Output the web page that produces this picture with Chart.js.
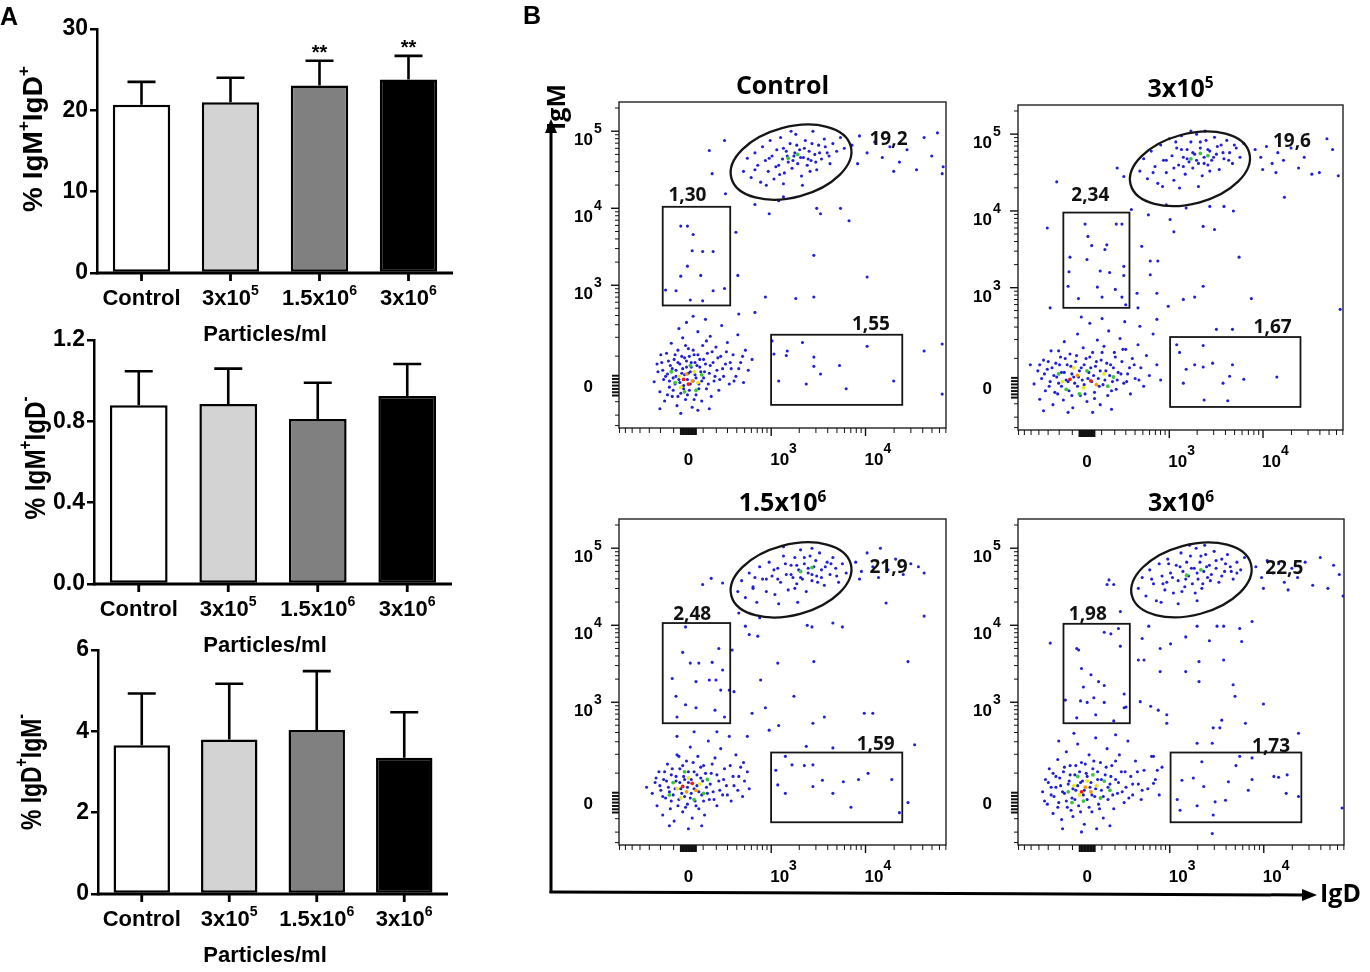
<!DOCTYPE html>
<html>
<head>
<meta charset="utf-8">
<script src="https://cdn.jsdelivr.net/npm/chart.js@4.4.0/dist/chart.umd.min.js"></script>
<style>
  html, body { margin: 0; padding: 0; background: #fff; }
  #page { position: relative; width: 1370px; height: 972px; overflow: hidden; background: #fff; }
  #page canvas { position: absolute; }
  #deco { position: absolute; left: 0; top: 0; pointer-events: none; }
</style>
</head>
<body>
<div id="page">
  <canvas id="bar1" style="left:0px;top:0px" width="470" height="355"></canvas>
  <canvas id="bar2" style="left:0px;top:315px" width="470" height="350"></canvas>
  <canvas id="bar3" style="left:0px;top:625px" width="470" height="347"></canvas>
  <canvas id="flow0" style="left:540px;top:55px" width="420" height="425"></canvas>
  <canvas id="flow1" style="left:950px;top:55px" width="420" height="425"></canvas>
  <canvas id="flow2" style="left:540px;top:470px" width="420" height="425"></canvas>
  <canvas id="flow3" style="left:950px;top:470px" width="420" height="425"></canvas>
  <svg id="deco" width="1370" height="972">
    <g font-family="Liberation Sans, Arial, sans-serif" font-weight="bold" font-size="25" fill="#000">
      <text x="0" y="25">A</text>
      <text x="523" y="24">B</text>
    </g>
    <g stroke="#000" stroke-width="3" fill="none">
      <line x1="551" y1="893" x2="551" y2="131"/>
      <line x1="549.5" y1="892" x2="1303" y2="895"/>
    </g>
    <polygon points="545,133 557,133 551,119" fill="#000"/>
    <polygon points="1302,889 1302,901 1317,895" fill="#000"/>
    <g font-family="Open Sans, sans-serif" font-weight="bold" font-size="25" fill="#000">
      <text transform="translate(565,107) rotate(-90)" text-anchor="middle">IgM</text>
      <text x="1320" y="902">IgD</text>
    </g>
  </svg>
</div>
<script>
// ---------- panel A: bar charts ----------
const barGroups = ["Control", "3x10{5}", "1.5x10{6}", "3x10{6}"];
const barColors = ["#ffffff", "#d3d3d3", "#808080", "#000000"];

const igmIgdMean = [20.7, 21.0, 23.05, 23.8];
const igmIgdSd = [2.8, 3.0, 3.05, 2.9];
const igmIgdSig = ["", "", "**", "**"];

const igmOnlyMean = [0.879, 0.885, 0.811, 0.925];
const igmOnlySd = [0.167, 0.174, 0.179, 0.157];

const igdOnlyMean = [3.66, 3.80, 4.03, 3.35];
const igdOnlySd = [1.27, 1.37, 1.45, 1.12];

// ---------- panel B: flow plots ----------
const flowTitles = ["Control", "3x10{5}", "1.5x10{6}", "3x10{6}"];
const flowXLabels = [[0, "0"], [1e3, "10{3}"], [1e4, "10{4}"]];
const flowYLabels = [[0, "0"], [1e3, "10{3}"], [1e4, "10{4}"], [1e5, "10{5}"]];

// gates, in display (decade) units of each plot
const ellipseCentres = [[1.08, 2.90], [1.09, 2.85], [1.08, 2.89], [1.10, 2.89]];
const igmGate = [[-0.27, 0.44, 1.04, 2.32], [-0.25, 0.45, 1.04, 2.28], [-0.27, 0.44, 1.03, 2.33], [-0.25, 0.45, 1.03, 2.32]];
const igdGate = [[0.87, 2.25, -0.25, 0.66], [0.88, 2.26, -0.25, 0.66], [0.87, 2.25, -0.255, 0.65], [0.88, 2.26, -0.255, 0.65]];
const ellipsePct = ["19,2", "19,6", "21,9", "22,5"];
const igmPct = ["1,30", "2,34", "2,48", "1,98"];
const igdPct = ["1,55", "1,67", "1,59", "1,73"];
const ellipsePctAt = [[2.105, 3.21], [2.17, 3.22], [2.105, 3.065], [2.08, 3.06]];
const igmPctAt = [[-0.01, 2.49], [0.035, 2.52], [0.04, 2.46], [0.007, 2.46]];
const igdPctAt = [[1.92, 0.81], [1.965, 0.81], [1.97, 0.77], [1.94, 0.75]];

// events [IgD, IgM] in display units
const ctrlDots = [
  // IgM-IgD- cluster
  [-0.36,0.05],[-0.32,0.18],[-0.30,-0.08],[-0.28,0.30],[-0.26,0.08],[-0.25,-0.20],[-0.23,0.42],[-0.22,0.15],[-0.20,-0.02],[-0.19,0.26],
  [-0.18,0.55],[-0.17,-0.14],[-0.16,0.10],[-0.15,0.34],[-0.14,0.02],[-0.13,0.20],[-0.12,-0.26],[-0.11,0.46],[-0.10,0.08],[-0.09,0.28],
  [-0.08,-0.10],[-0.07,0.16],[-0.06,0.62],[-0.05,0.00],[-0.04,0.36],[-0.03,-0.18],[-0.02,0.24],[-0.01,0.08],[0.00,0.48],[0.01,-0.06],
  [0.02,0.18],[0.03,0.30],[0.04,-0.28],[0.05,0.06],[0.06,0.40],[0.07,0.14],[0.08,-0.12],[0.09,0.26],[0.10,0.70],[0.11,0.02],
  [0.12,0.34],[0.13,0.18],[0.14,-0.20],[0.15,0.52],[0.16,0.10],[0.18,0.28],[0.19,-0.04],[0.20,0.42],[0.22,0.16],[0.23,0.64],
  [0.24,-0.14],[0.26,0.30],[0.27,0.06],[0.29,0.50],[0.30,0.20],[0.32,-0.06],[0.34,0.38],[0.35,0.78],[0.37,0.12],[0.39,0.28],
  [0.41,0.56],[0.43,0.02],[0.45,0.22],[0.47,0.40],[0.50,0.12],[0.52,0.66],[0.55,0.30],[0.58,0.04],[0.60,0.46],[0.63,0.20],
  [0.67,0.34],[-0.02,0.82],[0.05,0.90],[-0.10,0.74],[0.18,0.86],[-0.30,-0.30],[-0.08,-0.36],[0.10,-0.32],[0.22,-0.30],
  [-0.24,0.12],[-0.21,0.32],[-0.20,0.06],[-0.17,0.22],[-0.16,-0.06],[-0.14,0.40],[-0.13,0.12],[-0.11,0.30],[-0.11,-0.14],[-0.09,0.04],
  [-0.07,0.38],[-0.06,0.22],[-0.05,-0.04],[-0.04,0.14],[-0.03,0.52],[-0.02,0.32],[-0.01,-0.12],[0.00,0.16],[0.01,0.38],[0.02,0.02],
  [0.03,0.24],[0.05,0.46],[0.06,-0.18],[0.07,0.30],[0.08,0.10],[0.10,0.40],[0.11,-0.04],[0.12,0.24],[0.14,0.06],[0.16,0.34],
  [0.17,0.18],[0.19,0.58],[0.21,0.02],[0.23,0.26],[0.25,0.44],[0.28,0.12],[0.31,0.36],[0.33,0.08],[0.36,0.22],[0.40,0.44],
  [0.44,0.30],[0.48,0.06],[0.53,0.22],[0.57,0.38],[-0.27,0.20],[-0.33,0.28],[-0.29,0.40],[-0.22,-0.12],
  // scattered events
  [0.22,3.05],[0.38,3.18],[0.25,2.75],[0.39,2.49],[0.50,1.99],[0.52,1.43],[0.53,0.93],[0.81,1.15],[1.13,1.13],[1.32,1.15],
  [1.32,1.69],[1.88,1.41],[2.67,2.75],[2.67,0.54],[2.67,-0.11],[2.48,0.45],[1.69,2.14],[1.39,2.23],[0.85,2.23],[0.70,0.95],
  [0.70,2.35],[0.95,2.40],[1.35,2.30],[1.60,2.30],[1.00,2.45],
  // IgM+IgD- gate
  [-0.08,2.07],[-0.01,2.07],[0.05,1.96],[0.04,1.75],[0.15,1.74],[0.26,1.74],[-0.01,1.55],[0.13,1.43],[-0.08,1.42],[-0.24,1.24],
  [-0.13,1.23],[0.26,1.23],[0.38,1.26],[0.02,1.11],[0.15,1.10],
  // IgD+IgM- gate
  [0.88,0.58],[0.90,0.41],[1.04,0.45],[1.20,0.56],[1.32,0.37],[1.32,0.25],[1.39,0.15],[1.59,0.26],[1.88,0.51],[2.16,0.06],
  [1.66,-0.04],[1.24,0.02],[0.95,0.06],[1.03,0.39],
  // IgM+IgD+ cluster
  [0.58,2.78],[0.62,2.95],[0.66,2.70],[0.70,3.02],[0.73,2.86],[0.76,2.64],[0.78,3.10],[0.81,2.92],[0.84,2.78],[0.86,3.18],
  [0.88,2.98],[0.90,2.68],[0.93,3.06],[0.95,2.86],[0.97,3.22],[0.99,2.94],[1.01,2.76],[1.03,3.04],[1.05,2.90],[1.07,3.14],
  [1.09,2.82],[1.11,2.98],[1.13,3.26],[1.15,2.88],[1.17,3.06],[1.19,2.72],[1.21,2.96],[1.23,3.18],[1.25,2.86],[1.27,3.04],
  [1.29,2.92],[1.31,3.30],[1.33,3.00],[1.35,2.80],[1.37,3.12],[1.40,2.94],[1.43,3.20],[1.46,3.02],[1.49,2.88],[1.52,3.14],
  [1.56,3.04],[1.60,3.22],[1.64,3.08],[1.00,2.62],[1.20,2.60],[0.82,2.60],[1.08,3.30],
  [0.70,2.80],[0.85,2.95],[0.92,2.84],[1.00,3.08],[1.04,2.98],[1.10,2.92],[1.14,3.12],[1.18,2.96],[1.22,3.08],[1.26,2.94],
  [1.30,3.14],[1.34,2.90],[1.38,3.02],[1.44,3.10],[1.48,2.98],[1.12,3.02],[0.96,2.74],[1.28,2.78],
  // high IgD tail
  [1.72,3.12],[1.80,3.24],[1.88,3.02],[1.96,3.16],[2.04,2.96],[2.12,3.10],[2.22,2.90],[2.30,3.06],[2.40,2.80],[2.48,3.22],
  [2.56,2.98],[2.62,3.28],[2.68,2.84],[1.78,2.88],[2.16,2.78]
];
const ctrlHot = [
  [-0.05,0.08,4],[0.00,0.02,4],[-0.02,0.15,3],[0.04,0.06,3],[-0.10,0.12,2],[0.06,0.18,2],[-0.08,-0.02,2],[0.10,0.04,2],
  [-0.14,0.04,1],[0.02,0.26,1],[-0.04,-0.08,1],[0.14,0.14,1],[-0.18,0.18,1],[0.08,-0.06,1],[1.15,3.00,1],[1.05,2.95,1]
];

const p2Dots = [
  [-0.56,0.05],[-0.52,0.22],[-0.50,-0.15],[-0.48,0.12],[-0.46,0.36],[-0.44,-0.04],[-0.42,0.24],[-0.40,0.02],[-0.38,0.48],[-0.36,-0.22],
  [-0.35,0.16],[-0.33,0.32],[-0.31,-0.08],[-0.30,0.06],[-0.28,0.40],[-0.27,0.20],[-0.25,-0.16],[-0.24,0.60],[-0.22,0.10],[-0.21,0.30],
  [-0.19,-0.04],[-0.18,0.44],[-0.16,0.18],[-0.15,-0.26],[-0.13,0.06],[-0.12,0.34],[-0.10,0.70],[-0.09,0.14],[-0.07,-0.10],[-0.06,0.26],
  [-0.04,0.52],[-0.03,0.04],[-0.01,0.38],[0.00,-0.18],[0.02,0.20],[0.03,0.84],[0.05,0.08],[0.06,0.46],[0.08,-0.06],[0.09,0.28],
  [0.11,0.62],[0.12,0.12],[0.14,-0.22],[0.15,0.36],[0.17,0.04],[0.18,0.54],[0.20,0.22],[0.22,-0.10],[0.23,0.74],[0.25,0.30],
  [0.27,0.08],[0.29,0.46],[0.31,-0.02],[0.33,0.20],[0.35,0.64],[0.37,0.34],[0.39,0.06],[0.41,0.50],[0.43,0.18],[0.46,-0.08],
  [0.48,0.38],[0.51,0.12],[0.54,0.56],[0.57,0.26],[0.60,0.02],[0.63,0.42],[0.66,0.16],[0.70,0.70],[0.74,0.30],[0.78,0.10],
  [-0.46,-0.30],[-0.20,-0.32],[0.06,-0.32],[0.26,-0.28],[-0.06,0.92],[0.16,0.90],[0.40,0.86],[0.56,0.80],[-0.60,0.30],
  [-0.45,0.18],[-0.41,0.34],[-0.39,0.08],[-0.37,0.26],[-0.34,-0.06],[-0.32,0.14],[-0.29,0.30],[-0.27,0.02],[-0.24,0.20],[-0.23,0.38],
  [-0.20,0.08],[-0.17,0.28],[-0.16,-0.10],[-0.14,0.14],[-0.11,0.42],[-0.10,0.02],[-0.08,0.22],[-0.05,0.10],[-0.03,0.30],[-0.02,-0.08],
  [0.01,0.12],[0.03,0.40],[0.04,0.26],[0.07,0.16],[0.08,-0.14],[0.10,0.34],[0.13,0.02],[0.14,0.22],[0.16,0.46],[0.19,0.10],
  [0.21,0.32],[0.24,0.16],[0.26,-0.04],[0.28,0.26],[0.30,0.40],[0.32,0.10],[0.36,0.18],[0.38,0.50],[0.42,0.08],[0.45,0.26],
  [0.50,0.30],[0.55,0.10],[-0.50,0.30],[-0.30,0.48],
  [-0.32,2.68],[-0.42,2.08],[-0.39,1.04],[0.32,2.86],[0.39,2.75],[0.47,2.32],[0.65,2.25],[0.58,1.84],[0.67,1.65],[0.75,1.65],
  [0.67,1.47],[0.53,1.23],[0.74,1.23],[0.86,1.06],[0.54,1.04],[1.02,1.15],[1.14,1.18],[1.23,1.32],[0.88,2.19],[0.92,2.03],
  [1.05,2.34],[1.23,2.10],[1.35,2.06],[1.61,1.70],[1.74,1.16],[2.09,2.48],[2.68,1.02],[1.54,0.76],[1.37,0.76],[0.74,0.89],
  [0.84,2.38],[1.30,2.36],[1.45,2.36],[1.55,2.30],
  [-0.02,2.13],[0.31,2.13],[0.37,2.13],[0.01,1.97],[0.05,1.85],[0.21,1.86],[0.19,1.80],[-0.18,1.70],[0.00,1.67],[0.39,1.58],
  [-0.19,1.51],[0.14,1.52],[0.24,1.50],[0.39,1.46],[0.11,1.31],[-0.20,1.32],[0.30,1.28],[-0.09,1.16],[0.16,1.18],[0.37,1.18],[0.41,1.08],
  [0.95,0.56],[0.98,0.46],[1.05,0.24],[1.14,0.30],[1.23,0.27],[1.33,0.32],[1.54,0.30],[1.51,0.15],[1.66,0.11],[1.44,0.06],
  [2.01,0.14],[1.24,-0.16],[1.49,-0.17],[1.02,0.06],[1.23,0.55],
  [0.56,2.82],[0.60,2.98],[0.64,2.72],[0.68,3.08],[0.72,2.88],[0.75,2.66],[0.78,3.16],[0.81,2.96],[0.84,2.80],[0.87,3.24],
  [0.90,3.02],[0.92,2.70],[0.95,3.12],[0.97,2.90],[1.00,3.28],[1.02,3.00],[1.04,2.78],[1.06,3.10],[1.08,2.94],[1.10,3.20],
  [1.12,2.86],[1.14,3.04],[1.16,3.30],[1.18,2.92],[1.20,3.12],[1.22,2.76],[1.24,3.00],[1.26,3.22],[1.28,2.90],[1.30,3.08],
  [1.32,2.96],[1.35,3.26],[1.37,3.04],[1.40,2.84],[1.42,3.16],[1.45,2.98],[1.48,3.22],[1.51,3.06],[1.54,2.92],[1.58,3.12],
  [1.62,3.00],[1.66,3.18],[0.98,2.60],[1.18,2.62],[0.80,2.62],[1.10,3.34],[1.25,3.34],
  [0.70,2.80],[0.84,2.96],[0.92,2.86],[1.00,3.10],[1.06,2.98],[1.12,3.06],[1.16,2.96],[1.20,3.20],[1.24,2.92],[1.28,3.10],
  [1.34,3.00],[1.38,3.14],[1.44,3.06],[1.50,2.96],[1.56,3.16],[1.02,2.88],[1.30,2.82],[0.94,3.20],
  [1.78,3.10],[1.84,3.00],[1.90,3.14],[1.96,2.92],[2.02,3.06],[2.08,2.96],[2.16,3.12],[2.24,2.86],[2.30,3.00],[2.38,2.78],
  [2.46,2.80],[2.54,3.24],[2.60,3.10],[2.66,2.76],[1.86,2.84],[2.00,2.80]
];
const p2Hot = [
  [-0.18,0.11,4],[0.04,0.09,4],[-0.10,0.16,3],[0.10,0.04,3],[-0.26,0.08,2],[-0.04,0.00,2],[0.18,0.18,2],[-0.14,0.26,2],
  [0.00,0.22,1],[-0.30,0.18,1],[0.22,0.02,1],[-0.08,-0.08,1],[0.28,0.14,1],[-0.22,-0.02,1],[1.20,3.05,1],[1.10,2.98,1],[1.28,3.02,1]
];

const p3Dots = [
  [-0.38,0.12],[-0.35,0.26],[-0.33,-0.04],[-0.31,0.40],[-0.29,0.16],[-0.27,-0.16],[-0.26,0.30],[-0.24,0.06],[-0.22,0.50],[-0.21,0.20],
  [-0.19,-0.08],[-0.18,0.36],[-0.16,0.10],[-0.15,-0.24],[-0.13,0.28],[-0.12,0.62],[-0.10,0.04],[-0.09,0.44],[-0.08,0.18],[-0.06,-0.12],
  [-0.05,0.34],[-0.04,0.08],[-0.02,0.54],[-0.01,-0.02],[0.00,0.26],[0.02,0.72],[0.03,0.12],[0.04,-0.20],[0.06,0.40],[0.07,0.02],
  [0.09,0.22],[0.10,0.60],[0.11,-0.08],[0.13,0.32],[0.14,0.10],[0.16,0.48],[0.17,-0.16],[0.19,0.20],[0.21,0.80],[0.22,0.04],
  [0.24,0.38],[0.26,0.14],[0.28,0.58],[0.30,-0.04],[0.32,0.28],[0.34,0.70],[0.36,0.10],[0.38,0.44],[0.40,0.22],[0.43,0.86],
  [0.45,0.02],[0.47,0.34],[0.50,0.62],[0.52,0.16],[0.55,0.46],[0.57,0.08],[0.59,0.28],[0.62,0.40],[0.64,0.18],[-0.20,-0.30],
  [0.00,-0.34],[0.14,-0.30],[-0.12,0.86],[0.06,0.92],[0.30,0.92],[-0.44,0.20],
  [-0.30,0.22],[-0.27,0.08],[-0.25,0.40],[-0.23,0.28],[-0.20,0.14],[-0.18,0.02],[-0.17,0.44],[-0.14,0.18],[-0.13,0.34],[-0.11,-0.04],
  [-0.09,0.26],[-0.07,0.12],[-0.06,0.48],[-0.04,0.30],[-0.03,-0.06],[-0.01,0.20],[0.00,0.40],[0.02,0.06],[0.03,0.30],[0.05,0.52],
  [0.06,0.18],[0.08,-0.04],[0.09,0.36],[0.11,0.14],[0.13,0.46],[0.15,0.28],[0.16,0.02],[0.18,0.38],[0.20,0.12],[0.23,0.24],
  [0.25,0.50],[0.27,0.04],[0.30,0.36],[0.33,0.16],[0.37,0.30],[0.41,0.10],[0.44,0.48],[0.48,0.22],[0.53,0.34],[0.58,0.52],
  [-0.34,0.32],[-0.10,0.60],
  [0.15,2.83],[0.24,2.91],[0.36,2.85],[0.53,2.46],[0.60,2.29],[0.64,2.18],[0.73,2.16],[0.46,1.98],[0.43,1.46],[0.48,1.44],
  [0.76,1.59],[0.94,1.81],[1.32,1.83],[1.11,1.38],[0.67,1.16],[0.81,1.23],[0.95,1.00],[0.62,0.86],[0.85,0.94],[1.43,1.11],
  [1.31,1.03],[1.85,1.16],[1.94,1.16],[2.31,1.83],[2.48,2.42],[2.08,2.59],[1.52,2.33],[2.38,0.75],[1.24,0.73],[1.52,0.71],
  [2.31,0.00],[0.75,2.40],[1.25,2.30],[1.30,2.28],[1.62,2.28],
  [-0.03,2.28],[0.32,2.00],[-0.06,1.95],[0.02,1.81],[0.11,1.81],[0.25,1.82],[0.36,1.72],[-0.17,1.61],[0.08,1.57],[0.22,1.59],
  [0.29,1.59],[0.34,1.46],[-0.13,1.38],[-0.03,1.27],[0.08,1.23],[0.28,1.20],[-0.12,1.11],[0.38,1.11],
  [0.92,0.42],[1.02,0.60],[1.09,0.49],[1.22,0.48],[1.31,0.49],[0.94,0.23],[1.02,0.12],[1.31,0.21],[1.41,0.29],[1.52,0.12],
  [1.63,0.27],[1.79,0.30],[1.89,0.38],[2.14,0.30],[1.71,-0.06],[2.22,-0.13],
  [0.52,2.74],[0.56,2.88],[0.60,2.66],[0.64,2.98],[0.68,2.80],[0.72,2.60],[0.75,3.06],[0.78,2.90],[0.82,2.74],[0.85,3.12],
  [0.88,2.94],[0.91,2.70],[0.94,3.04],[0.97,2.86],[1.00,3.20],[1.03,2.96],[1.05,2.76],[1.08,3.08],[1.10,2.92],[1.12,3.18],
  [1.14,2.84],[1.16,3.02],[1.18,3.28],[1.20,2.90],[1.22,3.10],[1.24,2.74],[1.26,2.98],[1.28,3.20],[1.30,2.88],[1.32,3.06],
  [1.35,2.94],[1.38,3.24],[1.40,3.02],[1.43,2.82],[1.46,3.12],[1.49,2.96],[1.52,3.18],[1.55,3.04],[1.58,2.86],[1.62,3.10],
  [1.66,2.98],[0.95,2.58],[1.15,2.60],[1.00,3.32],[1.30,3.30],[0.70,2.92],
  [0.68,2.78],[0.82,2.90],[0.94,2.90],[1.02,3.10],[1.08,2.96],[1.14,3.08],[1.18,2.92],[1.22,3.18],[1.26,3.04],[1.30,2.96],
  [1.34,3.14],[1.40,2.92],[1.44,3.06],[1.50,3.10],[1.56,2.94],[1.12,2.78],[0.90,3.02],[1.36,2.86],
  [1.76,3.12],[1.82,3.00],[1.88,3.24],[1.94,3.06],[2.02,3.30],[2.10,3.02],[2.18,3.16],[2.26,2.96],[2.34,3.10],[2.42,3.06],
  [2.48,2.98],[1.80,2.90],[2.00,2.92]
];
const p3Hot = [
  [-0.06,0.21,4],[0.04,0.25,4],[-0.02,0.14,3],[0.08,0.16,3],[-0.12,0.18,2],[0.00,0.32,2],[-0.08,0.06,2],[0.12,0.24,2],
  [-0.16,0.26,1],[0.06,0.04,1],[-0.04,0.40,1],[0.16,0.12,1],[-0.20,0.10,1],[0.20,0.30,1],[1.18,3.00,1],[1.30,3.05,1]
];

const p4Dots = [
  [-0.47,0.14],[-0.44,0.30],[-0.42,-0.02],[-0.40,0.44],[-0.38,0.20],[-0.36,-0.14],[-0.35,0.08],[-0.33,0.34],[-0.31,0.56],[-0.30,0.00],
  [-0.28,0.22],[-0.27,-0.22],[-0.25,0.40],[-0.24,0.12],[-0.22,0.66],[-0.21,-0.06],[-0.19,0.28],[-0.18,0.48],[-0.16,0.06],[-0.15,-0.18],
  [-0.13,0.36],[-0.12,0.16],[-0.10,0.76],[-0.09,-0.04],[-0.07,0.26],[-0.06,0.52],[-0.04,0.10],[-0.03,-0.28],[-0.01,0.38],[0.00,0.04],
  [0.02,0.62],[0.03,0.20],[0.05,-0.12],[0.06,0.44],[0.08,0.08],[0.09,0.84],[0.11,0.30],[0.12,-0.02],[0.14,0.52],[0.15,0.16],
  [0.17,-0.20],[0.19,0.36],[0.21,0.70],[0.22,0.04],[0.24,0.24],[0.26,0.48],[0.28,-0.08],[0.30,0.30],[0.32,0.12],[0.34,0.62],
  [0.36,0.40],[0.39,0.00],[0.41,0.20],[0.43,0.80],[0.46,0.34],[0.48,0.10],[0.51,0.54],[0.54,0.24],[0.57,0.04],[0.60,0.42],
  [0.64,0.18],[0.68,0.60],[0.72,0.30],[0.76,0.10],[0.79,0.46],[-0.26,-0.34],[-0.06,-0.38],[0.10,-0.34],[0.24,-0.30],[-0.30,0.80],
  [-0.14,0.90],[0.30,0.88],
  [-0.41,0.26],[-0.38,0.10],[-0.36,0.38],[-0.33,0.20],[-0.31,-0.06],[-0.29,0.32],[-0.26,0.14],[-0.24,0.46],[-0.22,0.02],[-0.20,0.24],
  [-0.18,0.36],[-0.17,-0.10],[-0.15,0.18],[-0.13,0.04],[-0.12,0.48],[-0.10,0.22],[-0.08,0.40],[-0.07,-0.12],[-0.05,0.28],[-0.03,0.16],
  [-0.02,0.50],[0.00,0.34],[0.02,-0.06],[0.04,0.26],[0.05,0.10],[0.07,0.54],[0.09,0.18],[0.11,0.40],[0.13,-0.08],[0.15,0.30],
  [0.17,0.08],[0.20,0.46],[0.22,0.20],[0.25,0.34],[0.27,0.10],[0.30,0.54],[0.33,0.26],[0.37,0.14],[0.40,0.40],[0.44,0.06],
  [0.48,0.24],[0.53,0.40],[0.58,0.16],[-0.45,0.02],
  [0.21,2.83],[0.28,2.83],[0.23,2.89],[0.35,2.48],[-0.39,2.07],[0.65,2.29],[0.58,2.13],[0.77,2.00],[0.88,2.06],[1.04,2.15],
  [1.16,2.29],[1.29,2.10],[1.37,2.29],[1.44,2.29],[1.61,2.26],[1.63,2.09],[1.74,2.35],[0.54,1.85],[0.60,1.85],[1.18,1.83],
  [1.44,1.85],[0.77,1.70],[1.04,1.70],[1.18,1.57],[1.54,1.53],[1.56,1.38],[1.86,1.28],[0.56,1.31],[0.67,1.25],[0.75,1.20],
  [0.84,1.14],[0.84,1.03],[1.42,1.07],[1.67,1.03],[1.33,0.97],[1.40,0.97],[2.23,0.90],[1.16,0.77],[1.32,0.77],[0.70,0.60],
  [0.74,0.42],[0.70,0.25],[2.69,-0.07],[1.32,-0.40],[2.70,2.68],
  [0.18,2.21],[0.25,2.19],[0.33,2.26],[-0.11,2.00],[-0.09,1.98],[0.35,2.03],[-0.06,1.74],[0.04,1.66],[0.12,1.57],[0.18,1.52],
  [-0.04,1.50],[0.39,1.41],[-0.23,1.33],[-0.07,1.32],[0.00,1.30],[0.07,1.36],[0.18,1.30],[0.39,1.23],[0.41,1.24],[-0.11,1.10],
  [0.09,1.14],[0.28,1.06],
  [1.21,0.53],[1.00,0.29],[1.12,0.32],[1.23,0.21],[1.57,0.48],[1.49,0.27],[1.74,0.30],[1.97,0.34],[2.02,0.33],[2.11,0.36],
  [2.10,0.12],[2.23,0.08],[1.70,0.16],[0.95,0.04],[1.35,0.01],[1.46,0.03],[1.16,-0.04],[0.98,-0.10],[1.33,-0.16],[1.61,0.60],[1.74,0.58],
  [0.54,2.78],[0.58,2.92],[0.62,2.68],[0.66,3.02],[0.70,2.84],[0.73,2.62],[0.76,3.10],[0.79,2.94],[0.82,2.76],[0.85,3.16],
  [0.88,2.98],[0.91,2.72],[0.94,3.08],[0.96,2.88],[0.99,3.24],[1.01,3.00],[1.03,2.80],[1.05,3.12],[1.07,2.94],[1.09,3.20],
  [1.11,2.84],[1.13,3.04],[1.15,3.30],[1.17,2.90],[1.19,3.12],[1.21,2.78],[1.23,3.00],[1.25,3.22],[1.27,2.92],[1.29,3.08],
  [1.31,2.96],[1.34,3.26],[1.36,3.04],[1.39,2.86],[1.42,3.16],[1.45,3.00],[1.48,3.22],[1.51,3.06],[1.54,2.90],[1.58,3.12],
  [1.62,3.02],[1.66,3.18],[0.96,2.58],[1.16,2.62],[0.78,2.60],[1.08,3.34],[1.24,3.34],[0.84,2.86],[1.14,2.72],
  [0.68,2.90],[0.80,2.84],[0.90,2.92],[0.98,3.06],[1.04,2.90],[1.10,3.04],[1.16,2.98],[1.20,3.20],[1.26,3.06],[1.30,2.88],
  [1.36,3.14],[1.42,2.94],[1.46,3.10],[1.52,3.00],[1.58,2.98],[1.00,2.74],[1.22,2.84],[0.86,3.10],
  [1.78,3.06],[1.84,2.92],[1.90,3.14],[1.96,2.98],[2.02,3.10],[2.08,2.86],[2.16,3.04],[2.22,2.92],[2.30,3.12],[2.38,2.82],
  [2.46,3.18],[2.54,2.78],[2.60,3.08],[2.66,2.96],[1.86,2.78],[2.12,2.76]
];
const p4Hot = [
  [-0.06,0.14,4],[-0.02,0.20,3],[0.04,0.14,3],[-0.08,0.10,2],[0.00,0.28,2],[-0.14,0.22,2],[0.10,0.22,2],[-0.04,0.02,1],
  [0.14,0.06,1],[-0.20,0.14,1],[0.06,0.36,1],[-0.10,0.34,1],[0.18,0.28,1],[-0.16,0.00,1],[0.24,0.16,1],[1.05,2.95,1],[1.20,3.02,1]
];

const flowDots = [ctrlDots, p2Dots, p3Dots, p4Dots];
const flowHot = [ctrlHot, p2Hot, p3Hot, p4Hot];

// ---------- helpers ----------
const X_COF = 274, Y_COF = 100;          // biexponential cofactors
const toDisp = (v, c) => Math.asinh(v / c) / Math.LN10;
const ELL_A = 0.65, ELL_B = 0.37, ELL_TILT = 15 * Math.PI / 180;
const hotColors = ["", "#3cc43c", "#e8e81a", "#ff9600", "#ff1a00"];
const dotBlue = "#2121d2";

function drawRich(ctx, text, x, y, o) {
  const parts = [];
  text.replace(/\{([^}]*)\}|([^{]+)/g, (m, sup, txt) => {
    parts.push(sup !== undefined ? { t: sup, sup: true } : { t: txt, sup: false });
  });
  let size = o.size;
  const weight = o.weight || "bold";
  const supScale = o.supScale || 0.64;
  const rise = o.rise || 0.45;
  const measure = (s) => parts.reduce((w, p) => {
    ctx.font = `${weight} ${p.sup ? s * supScale : s}px ${o.family}`;
    p.w = ctx.measureText(p.t).width;
    return w + p.w;
  }, 0);
  let w = measure(size);
  if (o.fit) { size = size * o.fit / w; w = measure(size); }
  let cx = o.align === "center" ? x - w / 2 : o.align === "right" ? x - w : x;
  ctx.fillStyle = o.color || "#000";
  ctx.textAlign = "left";
  ctx.textBaseline = "alphabetic";
  parts.forEach((p) => {
    ctx.font = `${weight} ${p.sup ? size * supScale : size}px ${o.family}`;
    ctx.fillText(p.t, cx, p.sup ? y - size * rise : y);
    cx += p.w;
  });
  return w;
}

const ARIAL = '"Liberation Sans", Arial, sans-serif';
const OPEN = '"Open Sans", sans-serif';

// ---------- bar charts ----------
function barChart(id, cfg) {
  const extras = {
    id: "barExtras",
    afterDatasetsDraw(chart) {
      const { ctx, chartArea: a, scales: { y } } = chart;
      const bars = chart.getDatasetMeta(0).data;
      const y0 = y.getPixelForValue(0);
      ctx.save();
      ctx.strokeStyle = "#000";
      ctx.lineWidth = 2.8;
      // category axis with its ticks
      ctx.beginPath();
      ctx.moveTo(a.left - 1.2, y0);
      ctx.lineTo(a.right, y0);
      bars.forEach((bar) => { ctx.moveTo(bar.x, y0); ctx.lineTo(bar.x, y0 + 8); });
      ctx.stroke();
      // error bars
      ctx.lineWidth = 2.6;
      bars.forEach((bar, i) => {
        const top = y.getPixelForValue(cfg.mean[i] + cfg.sd[i]);
        ctx.beginPath();
        ctx.moveTo(bar.x, bar.y);
        ctx.lineTo(bar.x, top);
        ctx.moveTo(bar.x - 14, top);
        ctx.lineTo(bar.x + 14, top);
        ctx.stroke();
        if (cfg.sig && cfg.sig[i]) {
          drawRich(ctx, cfg.sig[i], bar.x, top - 2, { size: 20, family: ARIAL, align: "center" });
        }
      });
      ctx.restore();
    },
    afterDraw(chart) {
      const { ctx, chartArea: a } = chart;
      ctx.save();
      chart.getDatasetMeta(0).data.forEach((bar, i) => {
        drawRich(ctx, barGroups[i], bar.x, a.bottom + 32, { size: 22, family: ARIAL, align: "center" });
      });
      drawRich(ctx, "Particles/ml", 265, a.bottom + 68, { size: 22, family: ARIAL, align: "center" });
      ctx.translate(cfg.titleX, cfg.titleY);
      ctx.rotate(-Math.PI / 2);
      ctx.scale(1, cfg.titleStretch);
      drawRich(ctx, cfg.title, 0, 0, { size: 24, family: ARIAL, align: "center", fit: cfg.titleSpan, supScale: 0.62, rise: 0.48 });
      ctx.restore();
    }
  };

  new Chart(document.getElementById(id), {
    type: "bar",
    data: {
      labels: barGroups,
      datasets: [{
        data: cfg.mean,
        backgroundColor: barColors,
        borderColor: "#000",
        borderWidth: 2.5,
        borderSkipped: false,
        barPercentage: 0.645,
        categoryPercentage: 1
      }]
    },
    options: {
      responsive: false,
      animation: false,
      layout: { padding: { top: cfg.padTop, right: cfg.padRight, left: 0, bottom: cfg.xh } },
      plugins: { legend: { display: false }, tooltip: { enabled: false } },
      scales: {
        x: { display: false },
        y: {
          min: 0,
          max: cfg.max,
          ticks: {
            stepSize: cfg.step,
            color: "#000",
            padding: 2,
            font: { family: ARIAL, weight: "bold", size: 23 },
            callback: (v) => (cfg.decimals ? v.toFixed(cfg.decimals) : v)
          },
          grid: { drawOnChartArea: false, drawTicks: true, tickLength: 7, color: "#000", lineWidth: 2.5 },
          border: { color: "#000", width: 2.5 },
          afterFit: (s) => { s.width = cfg.yw; }
        }
      }
    },
    plugins: [extras]
  });
}

barChart("bar1", {
  mean: igmIgdMean, sd: igmIgdSd, sig: igmIgdSig, max: 30, step: 10, decimals: 0,
  title: "% IgM{+}IgD{+}", titleX: 42, titleY: 139, titleSpan: 146, titleStretch: 1.0,
  padTop: 29, padRight: 17, yw: 97, xh: 82
});
barChart("bar2", {
  mean: igmOnlyMean, sd: igmOnlySd, max: 1.2, step: 0.4, decimals: 1,
  title: "% IgM{+}IgD{-}", titleX: 45, titleY: 143, titleSpan: 123, titleStretch: 1.2,
  padTop: 25, padRight: 18, yw: 94, xh: 81
});
barChart("bar3", {
  mean: igdOnlyMean, sd: igdOnlySd, max: 6, step: 2, decimals: 0,
  title: "% IgD{+}IgM{-}", titleX: 41, titleY: 147, titleSpan: 116, titleStretch: 1.25,
  padTop: 25, padRight: 22, yw: 98, xh: 78
});

// ---------- flow plots ----------
const xMinorRaw = [-700, -600, -500, -400, -300, -200, -100, 100, 200, 300, 400, 500, 600, 700, 800, 900,
  2000, 3000, 4000, 5000, 6000, 7000, 8000, 9000, 20000, 30000, 40000, 50000, 60000, 70000];
const xBlobRaw = [-50, -40, -30, -20, -10, 0, 10, 20, 30, 40, 50];
const yMinorRaw = [-150, -100, -50, 100, 200, 300, 400, 500, 600, 700, 800, 900,
  2000, 3000, 4000, 5000, 6000, 7000, 8000, 9000, 20000, 30000, 40000, 50000, 60000, 70000, 80000, 90000, 200000];
const yBlobRaw = [-30, -20, -10, 0, 10, 20, 30];
const majorRaw = [1e3, 1e4, 1e5];

function flowPlugin(i) {
  return {
    id: "flowExtras",
    afterDatasetsDraw(chart) {
      const { ctx, chartArea: a, scales: { x, y } } = chart;
      ctx.save();
      ctx.strokeStyle = "#151515";
      ctx.lineWidth = 1.8;
      [igmGate[i], igdGate[i]].forEach(([x0, x1, y0, y1]) => {
        const l = x.getPixelForValue(x0), r = x.getPixelForValue(x1);
        const t = y.getPixelForValue(y1), b = y.getPixelForValue(y0);
        ctx.strokeRect(l, t, r - l, b - t);
      });
      const dec = x.getPixelForValue(1) - x.getPixelForValue(0);
      ctx.lineWidth = 2.3;
      ctx.beginPath();
      ctx.ellipse(x.getPixelForValue(ellipseCentres[i][0]), y.getPixelForValue(ellipseCentres[i][1]),
        ELL_A * dec, ELL_B * dec, -ELL_TILT, 0, Math.PI * 2);
      ctx.stroke();
      [[ellipsePct, ellipsePctAt], [igmPct, igmPctAt], [igdPct, igdPctAt]].forEach(([txt, at]) => {
        drawRich(ctx, txt[i], x.getPixelForValue(at[i][0]), y.getPixelForValue(at[i][1]) + 7,
          { size: 19, family: OPEN, align: "center", color: "#111" });
      });
      ctx.lineWidth = 1.4;
      ctx.strokeStyle = "#222";
      ctx.strokeRect(a.left, a.top, a.width, a.height);
      ctx.restore();
    },
    afterDraw(chart) {
      const { ctx, chartArea: a, scales: { x, y } } = chart;
      ctx.save();
      ctx.strokeStyle = "#111";
      const yTick = (raw, len, lw) => {
        const py = y.getPixelForValue(toDisp(raw, Y_COF));
        if (py < a.top || py > a.bottom) return;
        ctx.lineWidth = lw;
        ctx.beginPath(); ctx.moveTo(a.left - len, py); ctx.lineTo(a.left, py); ctx.stroke();
      };
      const xTick = (raw, len, lw) => {
        const px = x.getPixelForValue(toDisp(raw, X_COF));
        if (px < a.left || px > a.right) return;
        ctx.lineWidth = lw;
        ctx.beginPath(); ctx.moveTo(px, a.bottom); ctx.lineTo(px, a.bottom + len); ctx.stroke();
      };
      yMinorRaw.forEach((v) => yTick(v, 4, 1));
      yBlobRaw.forEach((v) => yTick(v, 7, 2));
      majorRaw.forEach((v) => yTick(v, 8, 1.4));
      xMinorRaw.forEach((v) => xTick(v, 5, 1));
      xBlobRaw.forEach((v) => xTick(v, 7, 2));
      majorRaw.forEach((v) => xTick(v, 8, 1.4));

      flowYLabels.forEach(([v, txt]) => {
        const py = y.getPixelForValue(toDisp(v, Y_COF));
        if (txt === "0") {
          drawRich(ctx, "0", a.left - 26, py + 6, { size: 17, family: ARIAL, align: "right" });
        } else {
          const base = txt.replace(/\{.*\}/, "");
          const exp = txt.match(/\{(.*)\}/)[1];
          drawRich(ctx, base, a.left - 26, py + 14, { size: 17, family: ARIAL, align: "right" });
          drawRich(ctx, exp, a.left - 25, py + 2, { size: 14, family: ARIAL, align: "left" });
        }
      });
      flowXLabels.forEach(([v, txt]) => {
        const px = x.getPixelForValue(toDisp(v, X_COF));
        if (txt === "0") {
          drawRich(ctx, "0", px, a.bottom + 37, { size: 17, family: ARIAL, align: "center" });
        } else {
          drawRich(ctx, txt, px - 1, a.bottom + 37, { size: 17, family: ARIAL, align: "left", supScale: 0.82, rise: 0.7 });
        }
      });
      drawRich(ctx, flowTitles[i], (a.left + a.right) / 2, a.top - 8,
        { size: 25, family: OPEN, align: "center", supScale: 0.62, rise: 0.36 });
      ctx.restore();
    }
  };
}

const flowPads = [
  { left: 79, top: 47, right: 14, bottom: 52 },
  { left: 68, top: 50, right: 27, bottom: 50 },
  { left: 79, top: 49, right: 14, bottom: 50 },
  { left: 68, top: 49, right: 26, bottom: 50 }
];

flowDots.forEach((dots, i) => {
  new Chart(document.getElementById("flow" + i), {
    type: "scatter",
    data: {
      datasets: [
        {
          data: flowHot[i].map(([x, y, l]) => ({ x, y, l })),
          pointRadius: 1.9,
          pointBorderWidth: 0,
          backgroundColor: (c) => (c.raw ? hotColors[c.raw.l] : dotBlue),
          order: 0
        },
        {
          data: dots.map(([x, y]) => ({ x, y })),
          pointRadius: 1.55,
          pointBorderWidth: 0,
          backgroundColor: dotBlue,
          order: 1
        }
      ]
    },
    options: {
      responsive: false,
      animation: false,
      layout: { padding: flowPads[i] },
      plugins: { legend: { display: false }, tooltip: { enabled: false } },
      scales: {
        x: { type: "linear", min: -0.73, max: 2.71, display: false },
        y: { type: "linear", min: -0.55, max: 3.68, display: false }
      }
    },
    plugins: [flowPlugin(i)]
  });
});
</script>
</body>
</html>
